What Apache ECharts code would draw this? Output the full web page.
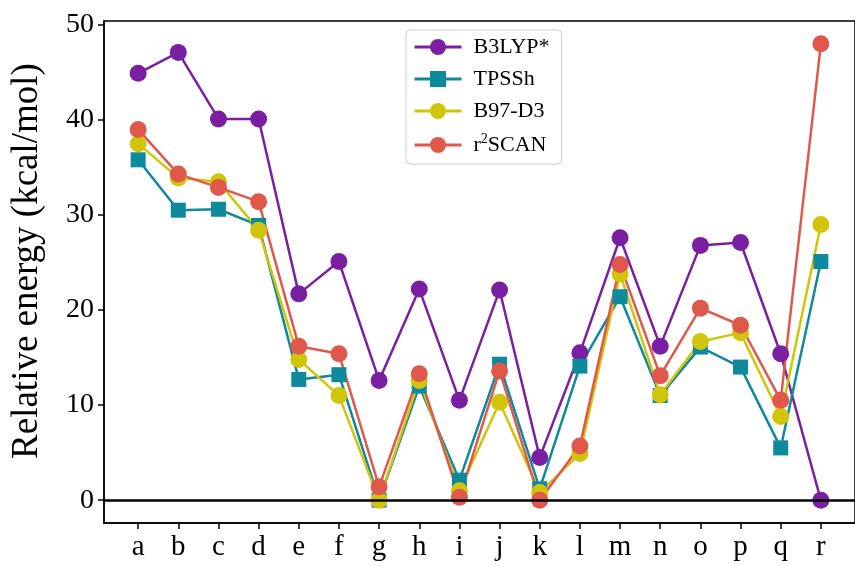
<!DOCTYPE html>
<html>
<head>
<meta charset="utf-8">
<script src="https://cdn.jsdelivr.net/npm/echarts@6/dist/echarts.min.js"></script>
<style>
html, body { margin: 0; padding: 0; background: #fff; }
#main { width: 855px; height: 566px; }
</style>
</head>
<body>
<div id="main"></div>
<script>
// categories along x
var cats = ['a','b','c','d','e','f','g','h','i','j','k','l','m','n','o','p','q','r'];
var yTicks = [0, 10, 20, 30, 40, 50];

// relative energies (kcal/mol)
var b3lyp  = [44.9, 47.1, 40.1, 40.1, 21.7, 25.1, 12.6, 22.2, 10.5, 22.1, 4.5, 15.5, 27.6, 16.2, 26.8, 27.1, 15.4, 0.0];
var tpssh  = [35.8, 30.5, 30.6, 28.9, 12.7, 13.2, 0.0, 12.0, 2.1, 14.3, 1.2, 14.1, 21.4, 11.0, 16.1, 14.0, 5.5, 25.1];
var b97d3  = [37.5, 33.9, 33.5, 28.4, 14.8, 11.0, 0.0, 12.6, 1.0, 10.3, 0.8, 4.9, 23.8, 11.1, 16.7, 17.6, 8.8, 29.0];
var r2scan = [39.0, 34.3, 32.9, 31.4, 16.2, 15.4, 1.4, 13.3, 0.3, 13.6, 0.0, 5.7, 24.8, 13.1, 20.2, 18.4, 10.5, 48.0];

var font = 'Liberation Serif';

function pairs(arr) {
    return arr.map(function (v, i) { return [i, v]; });
}

function makeSeries(name, data, color, symbol, size) {
    return {
        name: name,
        type: 'line',
        data: pairs(data),
        symbol: symbol,
        symbolSize: size,
        showSymbol: true,
        lineStyle: { color: color, width: 2.5 },
        itemStyle: { color: color },
        emphasis: { disabled: true }
    };
}

var chart = echarts.init(document.getElementById('main'));
var option = {
    animation: false,
    backgroundColor: '#fff',
    grid: {
        left: 104,
        right: -6,
        top: 21,
        bottom: 43,
        show: true,
        borderColor: '#000',
        borderWidth: 1.5
    },
    legend: {
        data: ['B3LYP*', 'TPSSh', 'B97-D3', 'r2SCAN'],
        orient: 'vertical',
        left: 406,
        top: 30,
        padding: [6, 12, 8, 7],
        itemWidth: 47,
        itemHeight: 20,
        itemGap: 10,
        borderColor: '#ccc',
        borderWidth: 1,
        borderRadius: 4,
        backgroundColor: '#fff',
        lineStyle: { width: 3 },
        formatter: function (name) {
            if (name === 'r2SCAN') return '{p|}{t|r}{s|2}{t|SCAN}';
            return '{p|}{t|' + name + '}';
        },
        textStyle: {
            fontFamily: font,
            fontSize: 22,
            color: '#000',
            rich: {
                p: { width: 7 },
                t: { fontFamily: font, fontSize: 22, color: '#000' },
                s: { fontFamily: font, fontSize: 14, color: '#000', verticalAlign: 'top', padding: [0, 0, 12, 0] }
            }
        }
    },
    xAxis: {
        type: 'value',
        min: -0.85,
        max: 17.85,
        splitLine: { show: false },
        axisLine: { show: true, onZero: false, lineStyle: { color: '#000', width: 1.5 } },
        axisTick: {
            show: true,
            inside: false,
            length: 6,
            customValues: cats.map(function (c, i) { return i; }),
            lineStyle: { color: '#000', width: 1.5 }
        },
        axisLabel: {
            customValues: cats.map(function (c, i) { return i; }),
            formatter: function (v) { return cats[Math.round(v)]; },
            fontFamily: font,
            fontSize: 29,
            color: '#000',
            margin: 10
        }
    },
    yAxis: {
        type: 'value',
        min: -2.4,
        max: 50.4,
        name: 'Relative energy (kcal/mol)',
        nameLocation: 'middle',
        nameGap: 58,
        nameTextStyle: { fontFamily: font, fontSize: 37, color: '#000', padding: [0, 0, 0, 22] },
        splitLine: { show: false },
        axisLine: { show: true, onZero: false, lineStyle: { color: '#000', width: 1.5 } },
        axisTick: {
            show: true,
            length: 6,
            customValues: yTicks,
            lineStyle: { color: '#000', width: 1.5 }
        },
        axisLabel: {
            customValues: yTicks,
            fontFamily: font,
            fontSize: 28,
            color: '#000',
            margin: 10
        }
    },
    series: [
        makeSeries('B3LYP*', b3lyp, '#7a1fa2', 'circle', 17),
        makeSeries('TPSSh', tpssh, '#0e8a9c', 'rect', 15),
        makeSeries('B97-D3', b97d3, '#d0c50a', 'circle', 17),
        makeSeries('r2SCAN', r2scan, '#e0584a', 'circle', 17),
        {
            name: 'zero',
            type: 'line',
            data: [],
            z: 10,
            silent: true,
            markLine: {
                silent: true,
                symbol: 'none',
                label: { show: false },
                lineStyle: { color: '#000', width: 2.5, type: 'solid' },
                data: [{ yAxis: 0 }]
            }
        }
    ]
};
chart.setOption(option);
</script>
</body>
</html>
